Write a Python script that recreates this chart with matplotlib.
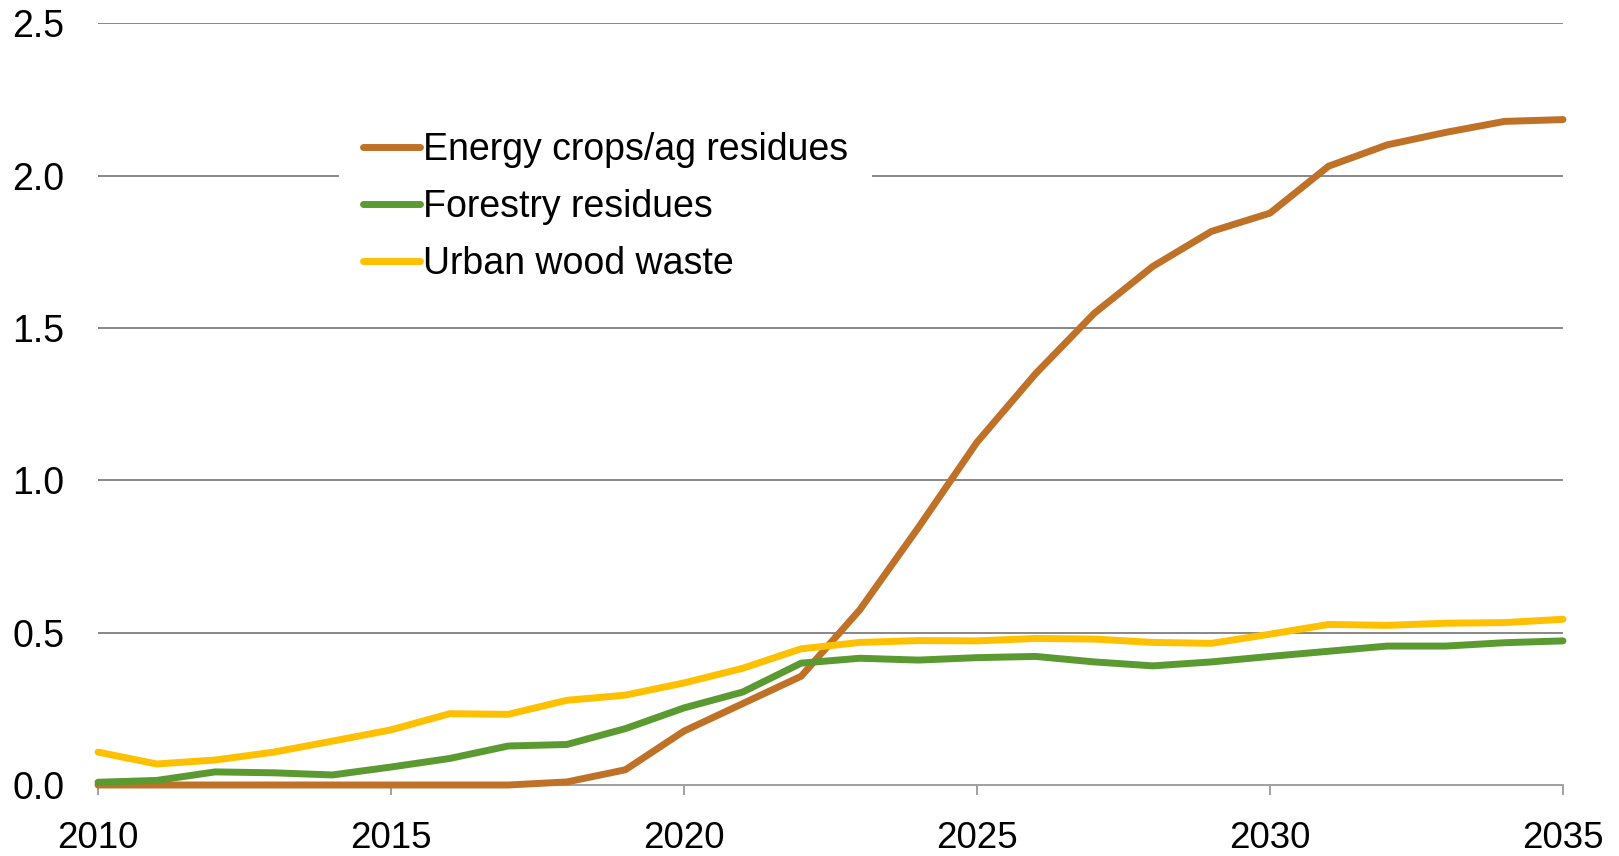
import numpy as np
import matplotlib.pyplot as plt

plt.rcParams['font.family'] = ['Liberation Sans', 'DejaVu Sans']

years = list(range(2010, 2036))

energy_crops = [0.0, 0.0, 0.0, 0.0, 0.0, 0.0, 0.0, 0.0, 0.01, 0.05,
                0.177, 0.267, 0.357, 0.575, 0.845, 1.125, 1.35, 1.548, 1.702, 1.817,
                1.877, 2.031, 2.101, 2.142, 2.178, 2.184]
forestry = [0.009, 0.015, 0.043, 0.04, 0.033, 0.059, 0.087, 0.128, 0.133, 0.185,
            0.253, 0.305, 0.40, 0.416, 0.41, 0.418, 0.422, 0.404, 0.391, 0.404,
            0.422, 0.439, 0.456, 0.456, 0.467, 0.473]
urban_wood = [0.108, 0.069, 0.082, 0.108, 0.144, 0.181, 0.234, 0.232, 0.278, 0.295,
              0.335, 0.383, 0.447, 0.468, 0.474, 0.473, 0.481, 0.479, 0.468, 0.465,
              0.495, 0.527, 0.524, 0.531, 0.533, 0.544]

series_names = ['Energy crops/ag residues', 'Forestry residues', 'Urban wood waste']
series_colors = ['#BF7128', '#5A9A31', '#FFC000']

fig = plt.figure(figsize=(16.19, 8.56), dpi=100)
ax = fig.add_axes([98/1619, 1-785/856, (1563-98)/1619, (785-23.3)/856])

for vals, name, col in zip([energy_crops, forestry, urban_wood], series_names, series_colors):
    ax.plot(years, vals, color=col, lw=5.0, label=name,
            solid_capstyle='round', solid_joinstyle='round', clip_on=False, zorder=3)

ax.set_xlim(2010, 2035)
ax.set_ylim(0, 2.5)
ax.set_xticks(range(2010, 2036, 5))
ax.set_yticks(np.arange(0, 2.51, 0.5))
ax.yaxis.set_major_formatter(plt.FormatStrFormatter('%.1f'))

for y in np.arange(0.5, 2.51, 0.5):
    ax.axhline(y, color='#878787', lw=1.4, zorder=1)

for s in ['top', 'right', 'left']:
    ax.spines[s].set_visible(False)
ax.spines['bottom'].set_color('#a0a0a0')
ax.spines['bottom'].set_linewidth(1.4)

ax.tick_params(axis='x', direction='out', length=7.2, width=1.4, color='#a0a0a0',
               labelsize=26.5, pad=19)
ax.tick_params(axis='y', length=0, labelsize=27, pad=24)

leg = ax.legend(loc='upper left', bbox_to_anchor=(339/1619, 1-108/856),
                bbox_transform=fig.transFigure, fontsize=27, frameon=True,
                facecolor='white', edgecolor='none', framealpha=1, fancybox=False,
                borderpad=0.65, borderaxespad=0, handlelength=1.5, handletextpad=0.08,
                labelspacing=0.56)
leg.set_zorder(2)
for h in leg.get_lines():
    h.set_solid_capstyle('round')

fig.savefig('out.png', dpi=100)
